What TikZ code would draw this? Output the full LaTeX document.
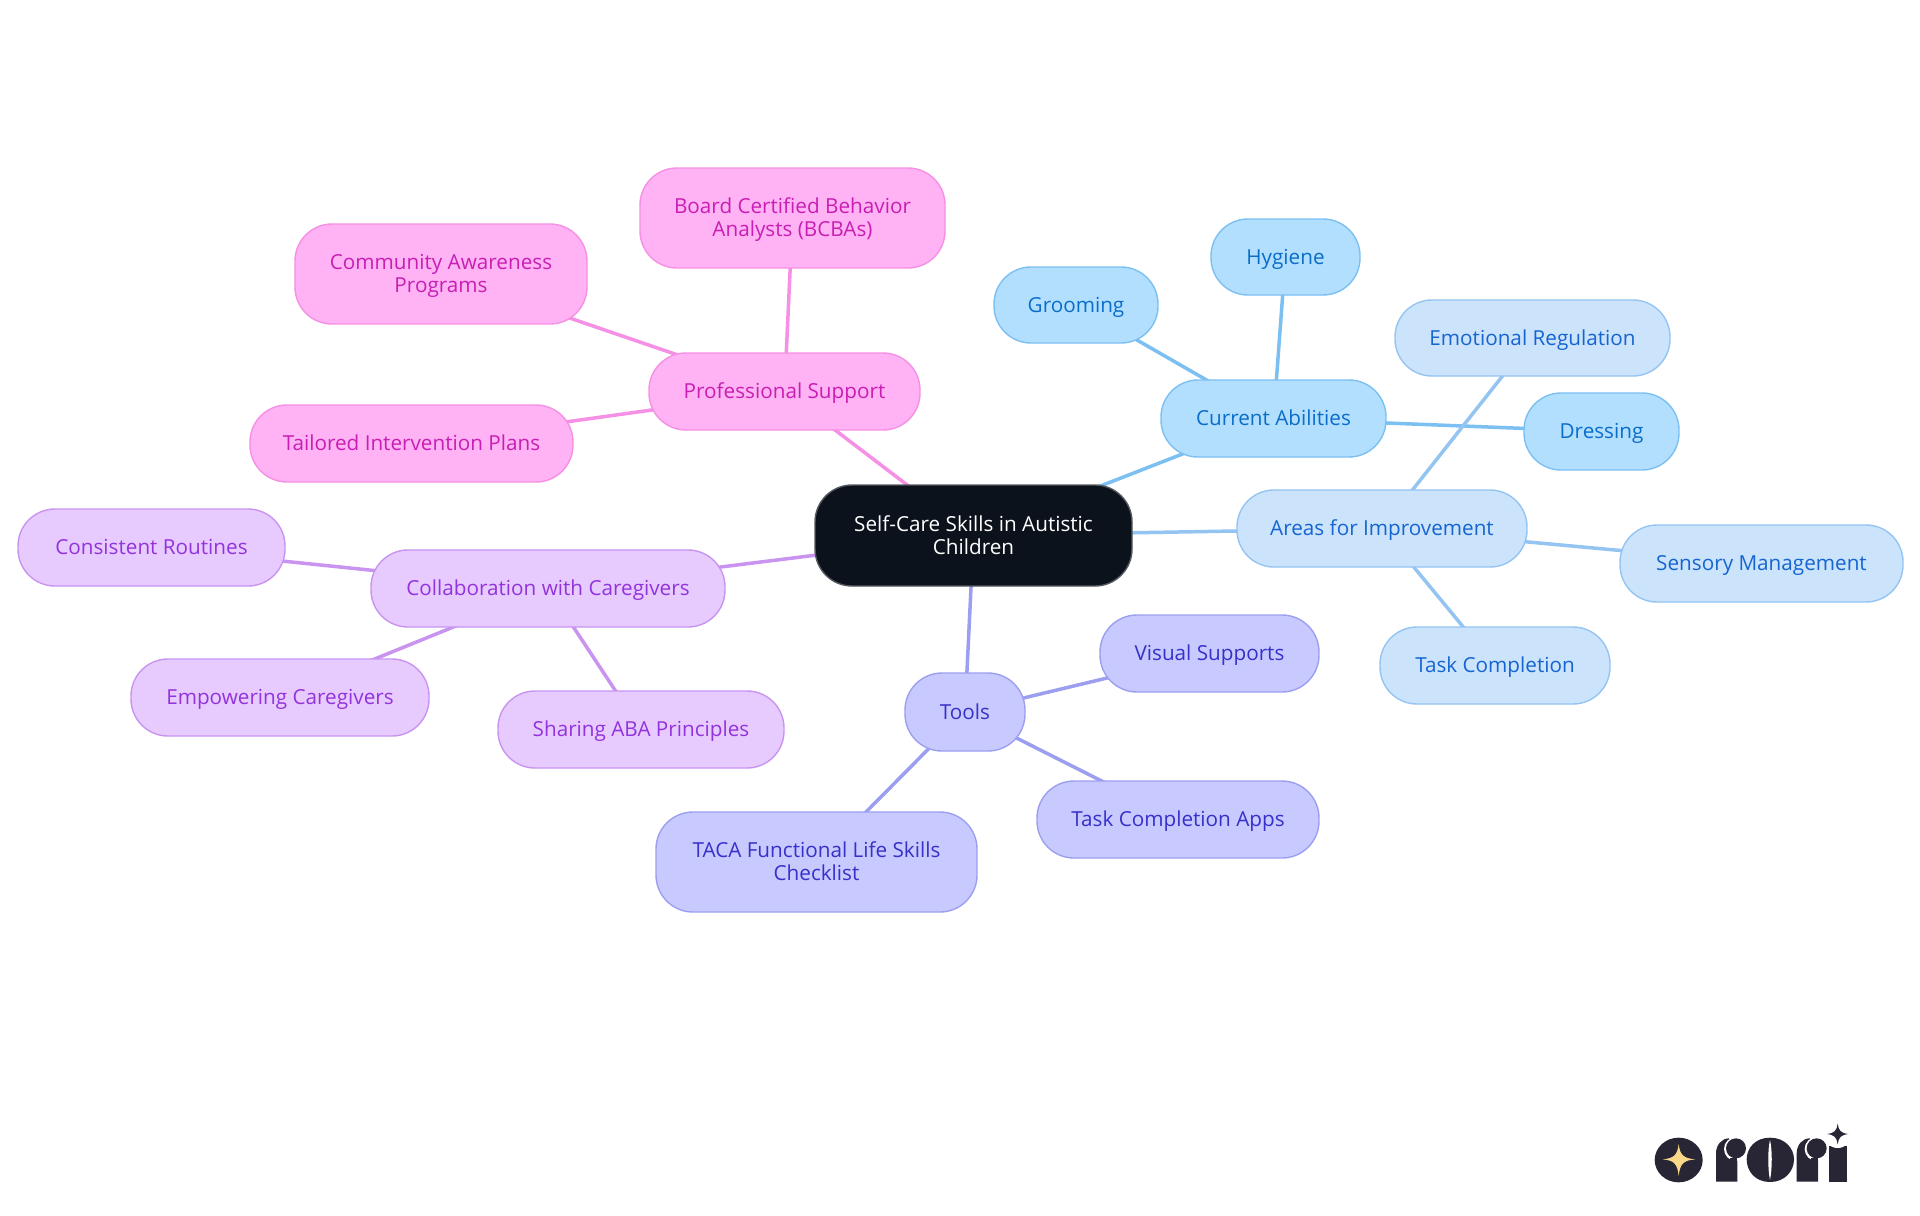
\documentclass[tikz,border=0pt]{standalone}
\usepackage{fontspec}
\setmainfont{Open Sans}
\usetikzlibrary{calc}
\usetikzlibrary{backgrounds}
\definecolor{currentfill}{HTML}{B3DFFF}
\definecolor{currentline}{HTML}{7CC0F2}
\definecolor{currenttext}{HTML}{0A6DC8}
\definecolor{areasfill}{HTML}{CCE3FC}
\definecolor{areasline}{HTML}{94C4F2}
\definecolor{areastext}{HTML}{1565D0}
\definecolor{toolsfill}{HTML}{C8CAFF}
\definecolor{toolsline}{HTML}{9C9FF0}
\definecolor{toolstext}{HTML}{3730C9}
\definecolor{collabfill}{HTML}{E7CBFF}
\definecolor{collabline}{HTML}{C894F0}
\definecolor{collabtext}{HTML}{9333DB}
\definecolor{proffill}{HTML}{FFB3F4}
\definecolor{profline}{HTML}{F590E4}
\definecolor{proftext}{HTML}{C81EB4}
\definecolor{rootfill}{HTML}{0B121B}
\definecolor{rootline}{HTML}{555A60}
\definecolor{logodark}{HTML}{282635}
\definecolor{logogold}{HTML}{FBD78A}
\tikzset{
  mapnode/.style={rectangle,rounded corners=18.5pt,line width=.7pt,inner sep=0pt,outer sep=0pt,align=center,font=\fontsize{10.35}{11.5}\selectfont,execute at begin node={\rule{0pt}{10.5pt}},execute at end node=\strut},
  twolines/.style={execute at begin node={\rule{0pt}{22pt}}},
  rootnode/.style={mapnode,fill=rootfill,draw=rootline,text=white},
  currentnode/.style={mapnode,fill=currentfill,draw=currentline,text=currenttext},
  areasnode/.style={mapnode,fill=areasfill,draw=areasline,text=areastext},
  toolsnode/.style={mapnode,fill=toolsfill,draw=toolsline,text=toolstext},
  collabnode/.style={mapnode,fill=collabfill,draw=collabline,text=collabtext},
  profnode/.style={mapnode,fill=proffill,draw=profline,text=proftext},
  mapedge/.style={line width=1.75pt}
}
\begin{document}
\begin{tikzpicture}[x=.5pt,y=-.5pt]
\begin{pgfonlayer}{background}
\path[use as bounding box,fill=white] (0,0) rectangle (1920,1215);
\end{pgfonlayer}
\draw (973.5,535.5) node[rootnode,twolines,minimum width=158.5pt,minimum height=50.5pt](root){Self-Care Skills in Autistic\\Children};
\draw (1273.5,418.5) node[currentnode,minimum width=112.5pt,minimum height=38.5pt](abilities){Current Abilities};
\draw (1285.5,257) node[currentnode,minimum width=74.5pt,minimum height=38pt](hygiene){Hygiene};
\draw (1076,305) node[currentnode,minimum width=82pt,minimum height=38pt](grooming){Grooming};
\draw (1601.5,431.5) node[currentnode,minimum width=77.5pt,minimum height=38.5pt](dressing){Dressing};
\draw (1382,528.5) node[areasnode,minimum width=145pt,minimum height=38.5pt](areas){Areas for Improvement};
\draw (1532.5,338) node[areasnode,minimum width=137.5pt,minimum height=38pt](emotional){Emotional Regulation};
\draw (1761.5,563.5) node[areasnode,minimum width=141.5pt,minimum height=38.5pt](sensory){Sensory Management};
\draw (1495,665.5) node[areasnode,minimum width=115pt,minimum height=38.5pt](taskdone){Task Completion};
\draw (965,712) node[toolsnode,minimum width=60pt,minimum height=39pt](tools){Tools};
\draw (1209.5,653.5) node[toolsnode,minimum width=109.5pt,minimum height=38.5pt](visual){Visual Supports};
\draw (1178,819.5) node[toolsnode,minimum width=141pt,minimum height=38.5pt](taskapps){Task Completion Apps};
\draw (816.5,862) node[toolsnode,twolines,minimum width=160.5pt,minimum height=50pt](taca){TACA Functional Life Skills\\Checklist};
\draw (548,588.5) node[collabnode,minimum width=177pt,minimum height=38.5pt](collab){Collaboration with Caregivers};
\draw (151.5,547.5) node[collabnode,minimum width=133.5pt,minimum height=38.5pt](routines){Consistent Routines};
\draw (280,697.5) node[collabnode,minimum width=149pt,minimum height=38.5pt](empower){Empowering Caregivers};
\draw (641,729.5) node[collabnode,minimum width=143pt,minimum height=38.5pt](sharing){Sharing ABA Principles};
\draw (784.5,391.5) node[profnode,minimum width=135.5pt,minimum height=38.5pt](support){Professional Support};
\draw (792.5,218) node[profnode,twolines,minimum width=152.5pt,minimum height=50pt](board){Board Certified Behavior\\Analysts (BCBAs)};
\draw (441,274) node[profnode,twolines,minimum width=146pt,minimum height=50pt](community){Community Awareness\\Programs};
\draw (411.5,443.5) node[profnode,minimum width=161.5pt,minimum height=38.5pt](tailored){Tailored Intervention Plans};
\begin{pgfonlayer}{background}
\draw[mapedge,currentline] (root.center)--(abilities.center);
\draw[mapedge,currentline] (abilities.center)--(hygiene.center);
\draw[mapedge,currentline] (abilities.center)--(grooming.center);
\draw[mapedge,currentline] (abilities.center)--(dressing.center);
\draw[mapedge,areasline] (root.center)--(areas.center);
\draw[mapedge,areasline] (areas.center)--(emotional.center);
\draw[mapedge,areasline] (areas.center)--(sensory.center);
\draw[mapedge,areasline] (areas.center)--(taskdone.center);
\draw[mapedge,toolsline] (root.center)--(tools.center);
\draw[mapedge,toolsline] (tools.center)--(visual.center);
\draw[mapedge,toolsline] (tools.center)--(taskapps.center);
\draw[mapedge,toolsline] (tools.center)--(taca.center);
\draw[mapedge,collabline] (root.center)--(collab.center);
\draw[mapedge,collabline] (collab.center)--(routines.center);
\draw[mapedge,collabline] (collab.center)--(empower.center);
\draw[mapedge,collabline] (collab.center)--(sharing.center);
\draw[mapedge,profline] (root.center)--(support.center);
\draw[mapedge,profline] (support.center)--(board.center);
\draw[mapedge,profline] (support.center)--(community.center);
\draw[mapedge,profline] (support.center)--(tailored.center);
\end{pgfonlayer}
\begin{scope}[shift={(1600,1090)},x=.5pt/3,y=-.5pt/3]
\fill[logodark] (236,210) ellipse (72 and 67);
\fill[logogold] (236,162) .. controls (240,195) and (250,205) .. (286,208) .. controls (250,211) and (240,221) .. (236,258) .. controls (232,221) and (222,211) .. (188,208) .. controls (222,205) and (232,195) .. (236,162) -- cycle;
\fill[logodark] (348,275) -- (348,190) .. controls (348,165) and (365,145) .. (387,145) -- (412,190) -- (412,275) -- cycle;
\fill[white] (408,177) circle (36);
\fill[logodark] (390,205) rectangle (412,240);
\fill[logodark] (408,175) circle (30);
\fill[logodark] (510,143) .. controls (555,143) and (582,175) .. (582,208) .. controls (582,243) and (555,276) .. (510,276) .. controls (465,276) and (440,243) .. (440,208) .. controls (440,175) and (465,143) .. (510,143) -- cycle;
\fill[white] (510,150) .. controls (517,180) and (517,235) .. (510,270) .. controls (503,235) and (503,180) .. (510,150) -- cycle;
\fill[logodark] (590,275) -- (590,190) .. controls (590,165) and (607,145) .. (629,145) -- (654,190) -- (654,275) -- cycle;
\fill[white] (650,177) circle (36);
\fill[logodark] (632,205) rectangle (654,240);
\fill[logodark] (650,175) circle (30);
\fill[logodark] (686,275) -- (686,168) -- (740,168) -- (740,275) -- cycle;
\fill[white] (713,132) circle (42);
\fill[logodark] (713,101) .. controls (716,122) and (722,129) .. (745,132) .. controls (722,135) and (716,142) .. (713,163) .. controls (710,142) and (704,135) .. (681,132) .. controls (704,129) and (710,122) .. (713,101) -- cycle;
\end{scope}
\end{tikzpicture}
\end{document}
